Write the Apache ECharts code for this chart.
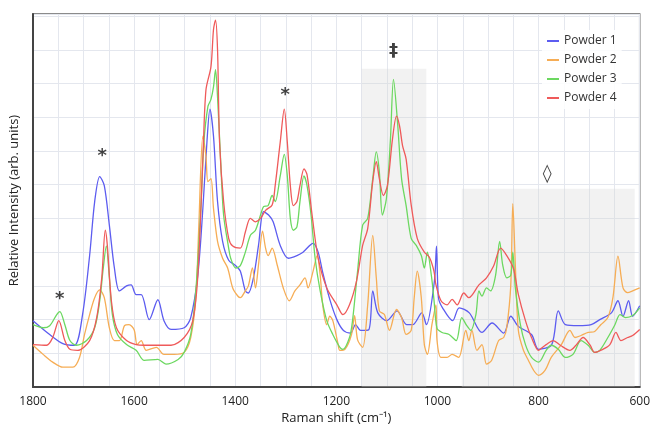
<!DOCTYPE html>
<html>
<head>
<meta charset="utf-8">
<script src="https://cdn.jsdelivr.net/npm/echarts@6/dist/echarts.min.js"></script>
<style>html,body{margin:0;padding:0;background:#fff}#c{width:653px;height:430px}</style>
</head>
<body>
<div id="c"></div>
<script>
const seriesNames = ['Powder 1', 'Powder 2', 'Powder 3', 'Powder 4'];
const xTickLabels = [1800, 1600, 1400, 1200, 1000, 800, 600];

const powder1 = [[1800,1.97],[1767,1.56],[1741,1.29],[1718,1.24],[1702,2.15],[1688,3.9],[1678,5.5],[1668,6.24],[1659,5.97],[1649,4.8],[1639,3.53],[1629,2.85],[1615,3.0],[1606,3.03],[1596,2.74],[1586,2.74],[1570,2.0],[1553,2.59],[1541,1.97],[1527,1.71],[1501,1.76],[1488,2.06],[1474,3.32],[1464,5.3],[1456,7.26],[1450,8.24],[1443,7.44],[1435,5.5],[1425,4.32],[1413,3.76],[1399,3.6],[1390,3.44],[1380,2.85],[1374,2.79],[1364,3.24],[1354,4.2],[1344,5.2],[1334,5.1],[1325,4.9],[1311,4.2],[1295,3.82],[1278,3.9],[1266,4.0],[1246,4.26],[1236,4.0],[1227,3.4],[1213,2.6],[1199,2.0],[1186,1.68],[1172,1.6],[1162,1.85],[1152,1.68],[1136,1.7],[1128,2.85],[1118,2.2],[1100,1.97],[1080,2.26],[1061,1.85],[1049,1.85],[1031,2.2],[1022,1.85],[1006,3.15],[1002,4.18],[998,2.65],[990,2.35],[970,1.97],[957,2.35],[937,2.2],[912,1.62],[892,1.9],[869,1.6],[855,2.1],[840,1.8],[814,1.56],[800,1.12],[774,1.26],[761,2.26],[747,1.85],[721,1.82],[696,1.85],[679,2.0],[656,2.2],[643,2.56],[633,2.1],[622,2.56],[614,2.1],[600,2.41]];

const powder2 = [[1800,1.24],[1780,0.97],[1761,0.74],[1741,0.59],[1721,0.59],[1708,0.88],[1698,1.56],[1688,2.15],[1678,2.65],[1668,2.88],[1659,2.65],[1649,1.76],[1639,1.38],[1629,1.38],[1619,1.82],[1610,1.85],[1600,1.7],[1594,1.26],[1586,1.38],[1576,1.09],[1556,1.18],[1541,0.97],[1521,0.97],[1501,1.03],[1488,1.47],[1478,2.65],[1472,4.8],[1464,7.44],[1458,6.85],[1454,6.09],[1448,6.18],[1443,5.3],[1435,4.32],[1425,3.82],[1415,3.53],[1405,2.94],[1395,2.7],[1390,2.65],[1380,2.85],[1374,3.0],[1366,3.53],[1360,2.94],[1354,3.62],[1346,4.62],[1340,4.12],[1335,3.9],[1327,4.12],[1317,3.62],[1305,2.94],[1293,2.56],[1282,2.85],[1272,3.03],[1262,3.24],[1256,2.94],[1246,3.44],[1238,3.9],[1232,3.32],[1227,2.44],[1219,1.85],[1213,2.1],[1207,1.97],[1197,1.3],[1193,1.09],[1183,1.12],[1170,1.56],[1164,2.12],[1158,1.4],[1148,1.18],[1138,2.44],[1128,4.5],[1121,3.24],[1115,2.26],[1105,2.15],[1095,1.68],[1081,2.3],[1071,2.06],[1062,1.56],[1052,1.68],[1046,2.65],[1040,3.44],[1032,2.65],[1026,1.26],[1020,0.97],[1011,1.85],[1003,2.44],[1001,1.4],[993,0.88],[981,0.88],[971,0.97],[958,0.88],[944,1.68],[938,1.38],[932,1.68],[922,1.09],[912,1.26],[903,0.68],[893,0.79],[879,1.38],[869,1.47],[863,1.76],[855,3.03],[851,5.44],[846,3.62],[840,1.68],[830,1.09],[820,0.79],[810,0.5],[800,0.35],[787,0.5],[775,0.88],[755,1.26],[738,1.68],[728,1.47],[716,1.53],[702,1.62],[689,1.65],[677,1.85],[663,2.06],[653,2.65],[643,3.88],[633,2.94],[624,2.8],[614,2.85],[600,2.94]];

const powder3 = [[1800,1.85],[1780,1.76],[1767,1.82],[1753,2.15],[1747,2.24],[1737,1.85],[1727,1.38],[1714,1.24],[1694,1.38],[1678,1.76],[1668,2.56],[1661,3.53],[1655,4.18],[1649,3.24],[1643,2.15],[1633,1.56],[1615,1.26],[1596,1.09],[1580,0.79],[1553,0.82],[1537,0.68],[1513,0.82],[1501,1.03],[1488,1.56],[1478,2.85],[1468,5.3],[1462,7.26],[1454,8.32],[1448,8.53],[1443,8.9],[1439,9.41],[1435,8.6],[1429,6.76],[1423,5.1],[1413,4.12],[1409,3.82],[1399,3.53],[1390,3.6],[1380,4.0],[1370,4.5],[1360,4.65],[1350,5.1],[1344,5.35],[1335,5.38],[1327,5.68],[1321,5.5],[1311,6.26],[1303,6.9],[1297,6.26],[1291,5.0],[1285,4.65],[1278,4.75],[1272,5.5],[1264,6.26],[1258,5.97],[1250,5.1],[1242,3.82],[1232,2.85],[1219,1.97],[1207,1.56],[1193,1.18],[1187,1.12],[1174,1.47],[1168,1.97],[1158,3.44],[1148,4.8],[1138,5.0],[1128,6.18],[1121,6.97],[1115,6.38],[1109,5.1],[1101,5.59],[1093,7.35],[1087,9.12],[1079,7.85],[1071,6.18],[1062,5.38],[1052,4.41],[1042,4.2],[1032,3.9],[1026,3.53],[1020,4.0],[1012,3.3],[1007,2.6],[1001,1.75],[991,1.62],[977,1.56],[963,1.38],[952,2.06],[942,1.82],[934,1.68],[924,2.15],[918,2.85],[912,2.7],[903,2.94],[895,2.85],[885,3.32],[877,4.32],[871,3.62],[863,3.24],[855,3.32],[851,4.0],[846,2.94],[836,1.85],[826,1.26],[814,0.88],[800,0.74],[785,1.09],[775,1.24],[761,1.12],[747,0.88],[732,0.97],[716,1.38],[702,1.24],[689,1.03],[679,1.09],[663,1.47],[649,1.85],[639,2.15],[628,2.06],[614,2.12],[600,2.35]];

const powder4 = [[1800,1.26],[1773,1.24],[1761,1.47],[1749,1.97],[1737,1.38],[1727,1.12],[1712,1.09],[1688,1.38],[1674,2.06],[1664,3.24],[1657,4.65],[1653,4.2],[1645,2.56],[1635,1.76],[1615,1.38],[1596,1.26],[1580,1.24],[1556,1.24],[1527,1.24],[1501,1.47],[1484,1.97],[1474,3.3],[1464,6.76],[1458,8.8],[1448,9.5],[1443,10.6],[1439,10.88],[1435,10.0],[1431,7.26],[1423,5.5],[1413,4.41],[1405,4.18],[1390,4.12],[1380,4.6],[1370,5.0],[1360,4.9],[1350,5.0],[1340,5.24],[1327,5.4],[1321,5.97],[1311,7.26],[1303,8.24],[1297,7.26],[1291,5.97],[1285,5.38],[1278,5.5],[1272,5.97],[1264,6.47],[1258,6.3],[1248,5.1],[1236,3.82],[1219,2.94],[1199,2.44],[1187,2.15],[1174,2.44],[1160,3.15],[1148,4.2],[1138,4.7],[1128,6.1],[1121,6.68],[1115,6.18],[1107,5.68],[1099,5.97],[1089,7.35],[1081,8.03],[1075,7.74],[1069,7.15],[1062,6.76],[1052,5.4],[1040,4.41],[1026,4.0],[1016,3.85],[1007,3.44],[1003,3.03],[993,2.56],[981,2.44],[971,2.6],[961,2.44],[948,2.79],[938,2.65],[918,3.03],[903,3.24],[889,3.59],[875,4.12],[863,3.9],[850,3.53],[840,2.74],[826,1.97],[814,1.47],[800,1.09],[797,1.12],[785,1.26],[771,1.38],[757,1.24],[738,1.09],[726,1.24],[712,1.47],[698,1.24],[689,1.03],[673,1.12],[659,1.26],[647,1.62],[637,1.38],[624,1.47],[614,1.53],[600,1.71]];

const shadedRegions = [[1150, 1022, 9.44], [952, 610, 5.88]];
const annotations = [[1747, 2.6, '*'], [1663, 6.83, '*'], [1301, 8.66, '*'], [1087, 9.95, '‡'], [783, 6.3, '◊']];

const colors = ['#5c5cf0', '#f6ad55', '#6cd860', '#ef5a5a'];
const allData = [powder1, powder2, powder3, powder4];

const chart = echarts.init(document.getElementById('c'), null, {renderer: 'canvas'});
const series = allData.map((d, i) => ({
  name: seriesNames[i],
  type: 'line',
  data: d,
  smooth: 0.3,
  showSymbol: false,
  symbol: 'none',
  lineStyle: {width: 1.3, color: colors[i]},
  itemStyle: {color: colors[i]},
  z: 3,
  markArea: i === 0 ? {
    silent: true,
    itemStyle: {color: 'rgba(215,215,215,0.32)'},
    data: shadedRegions.map(r => [{xAxis: r[0], yAxis: r[2]}, {xAxis: r[1], yAxis: 0}])
  } : undefined
}));
series.push({
  name: 'annot',
  type: 'scatter',
  symbolSize: 0,
  silent: true,
  data: annotations.map(a => ({value: [a[0], a[1]], label: {formatter: a[2]}})),
  label: {show: true, position: 'inside', color: '#111', fontSize: 18, fontWeight: 'bold', fontFamily: 'DejaVu Sans'},
  z: 5
});

chart.setOption({
  animation: false,
  color: colors,
  grid: {left: 31, right: 11, top: 14, bottom: 40, show: true, borderColor: '#666', borderWidth: 1.5},
  legend: {
    data: seriesNames,
    orient: 'vertical',
    left: 542, top: 30,
    itemWidth: 12, itemHeight: 2, itemGap: 7,
    icon: 'rect',
    textStyle: {fontSize: 12, color: '#333', fontFamily: 'Open Sans'},
    backgroundColor: 'rgba(255,255,255,0.85)'
  },
  xAxis: {
    type: 'value', inverse: true, min: 600, max: 1800, interval: 50,
    name: 'Raman shift (cm⁻¹)', nameLocation: 'middle', nameGap: 24,
    nameTextStyle: {fontSize: 13, color: '#222', fontFamily: 'Open Sans'},
    axisLine: {show: true, onZero: false, lineStyle: {color: '#444', width: 2}},
    axisTick: {show: false},
    axisLabel: {color: '#222', fontSize: 12, fontFamily: 'Open Sans', margin: 8,
      formatter: v => xTickLabels.indexOf(v) >= 0 ? String(v) : ''},
    splitLine: {show: true, lineStyle: {color: '#e4e7ee', width: 1}}
  },
  yAxis: {
    type: 'value', min: 0, max: 11.06, interval: 1,
    name: 'Relative Intensity (arb. units)', nameLocation: 'middle', nameGap: 12,
    nameTextStyle: {fontSize: 13, color: '#222', fontFamily: 'Open Sans'},
    axisLine: {show: true, onZero: false, lineStyle: {color: '#444', width: 2}},
    axisTick: {show: false},
    axisLabel: {show: false},
    splitLine: {show: true, lineStyle: {color: '#e4e7ee', width: 1}}
  },
  series: series
});
</script>
</body>
</html>
